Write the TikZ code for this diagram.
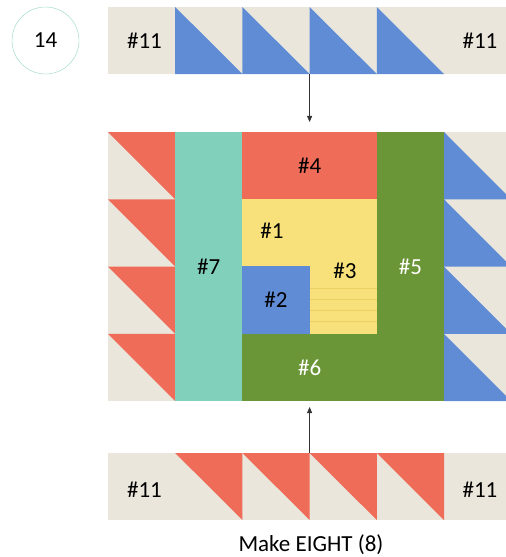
\documentclass[tikz,border=0pt]{standalone}
\usepackage{fontspec}
\setmainfont{Carlito}
\usetikzlibrary{arrows.meta, positioning}

\definecolor{cream}{RGB}{234,230,220}
\definecolor{coral}{RGB}{238,108,88}
\definecolor{sky}{RGB}{95,140,212}
\definecolor{mint}{RGB}{128,208,188}
\definecolor{sun}{RGB}{248,224,122}
\definecolor{grain}{RGB}{222,190,70}
\definecolor{leaf}{RGB}{107,150,56}
\definecolor{ring}{RGB}{150,215,195}

\begin{document}
\begin{tikzpicture}[
    x=1pt, y=-1pt,
    >={Triangle[length=6pt,width=5pt]},
    lbl/.style={font=\fontsize{23}{27}\selectfont, text=black, inner sep=0pt},
    wlbl/.style={lbl, text=white},
    patch/.style={lbl, inner sep=0pt, outer sep=0pt},
    strip/.style={fill=cream, minimum width=403.2pt, minimum height=67pt,
                  inner sep=0pt, outer sep=0pt},
    link/.style={->, thin, black!80}
  ]
  \useasboundingbox (0,0) rectangle (506,557);
  \clip (0,0) rectangle (506,557);

  % step number
  \node[lbl, draw=ring, thin, circle, minimum size=67pt] (step14) at (45.5,40.5) {14};

  % top strip: blue flying geese
  \node[strip] (topstrip) at (309.6,40.5) {};
  \foreach \x in {175.2,242.4,309.6,376.8}
    \fill[sky] (\x,7) -- (\x,74) -- (\x+67.2,74) -- cycle;
  \node[lbl] (t11a) at (144.5,41) {\#11};
  \node[lbl] (t11b) at (480,41) {\#11};

  % side columns of the block
  \fill[cream] (108,132) rectangle (175.2,401);
  \fill[cream] (444,132) rectangle (511.2,401);
  \foreach \y in {132,199.25,266.5,333.75} {
    \fill[coral] (108,\y) -- (175.2,\y) -- (175.2,\y+67.25) -- cycle;
    \fill[sky] (444,\y) -- (444,\y+67.25) -- (511.2,\y+67.25) -- cycle;
  }

  % centre patches
  \node[patch, fill=mint, minimum width=67.2pt, minimum height=269pt] (p7) at (208.8,266.5) {\#7};
  \node[patch, fill=coral, minimum width=134.4pt, minimum height=67.25pt] (p4) at (309.6,165.6) {\#4};
  \node[patch, fill=sun, minimum width=134.4pt, minimum height=67.25pt] (p1) at (309.6,232.9) {};
  \node[patch, fill=sun, minimum width=67.2pt, minimum height=67.25pt] (p3) at (343.2,300.1) {};
  \node[patch, fill=sky, minimum width=67.2pt, minimum height=67.25pt] (p2) at (276,300.1) {\#2};
  \foreach \y in {288,299,310,321}
    \draw[grain, very thin, opacity=.45] (p3.west |- 0,\y) -- (p3.east |- 0,\y);
  \node[patch, fill=leaf, text=white, minimum width=134.4pt, minimum height=67.25pt] (p6) at (309.6,367.4) {\#6};
  \node[patch, fill=leaf, text=white, minimum width=67.2pt, minimum height=269pt] (p5) at (410.4,266.5) {\#5};
  \node[lbl] (l1) at (272,231) {\#1};
  \node[lbl] (l3) at (345,271) {\#3};

  % bottom strip: red flying geese
  \node[strip] (botstrip) at (309.6,486.5) {};
  \foreach \x in {175.2,242.4,309.6,376.8}
    \fill[coral] (\x,453) -- (\x+67.2,453) -- (\x+67.2,520) -- cycle;
  \node[lbl] (b11a) at (144.5,490) {\#11};
  \node[lbl] (b11b) at (480,490) {\#11};

  % arrows
  \draw[link, shorten >=10pt] (topstrip.south) -- (p4.north);
  \draw[link, shorten >=6pt] (botstrip.north) -- (p6.south);

  \node[lbl] (note) at (311,545) {Make EIGHT (8)};
\end{tikzpicture}
\end{document}
